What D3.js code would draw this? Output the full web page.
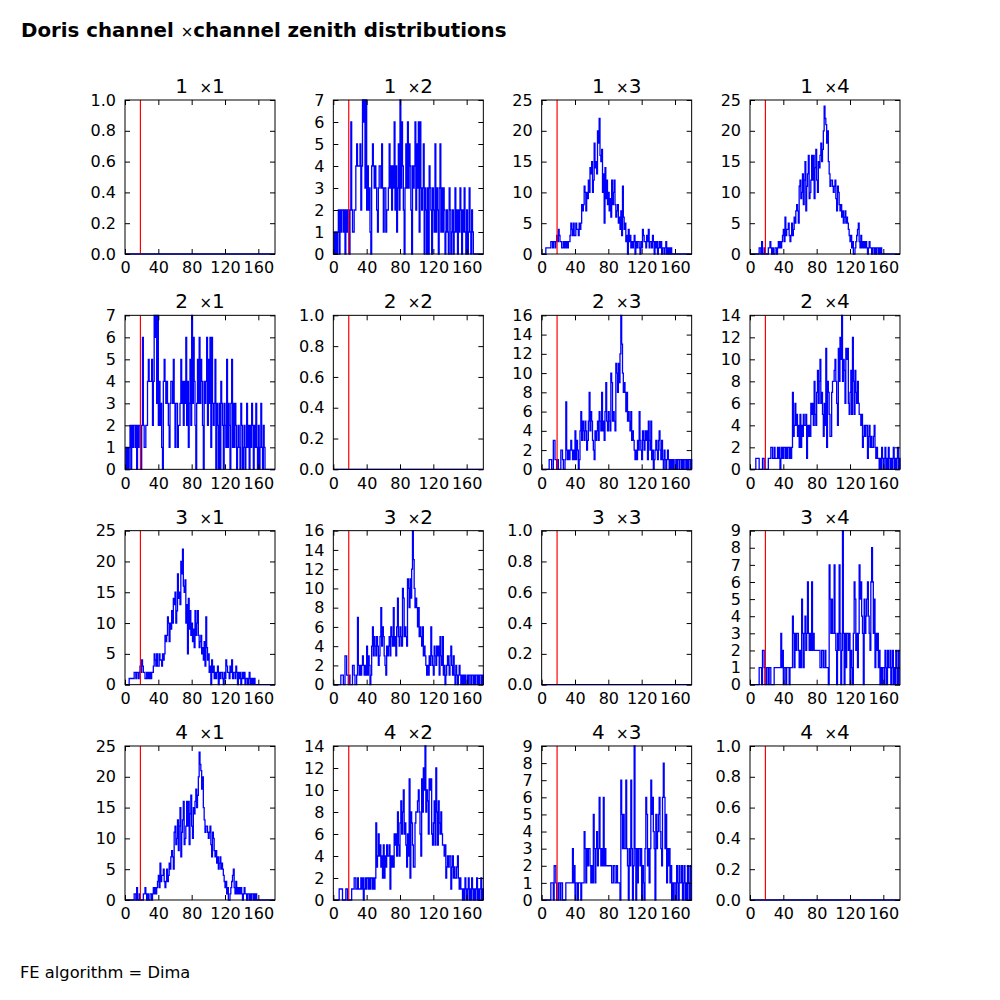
<!DOCTYPE html>
<html>
<head>
<meta charset="utf-8">
<script src="https://cdn.jsdelivr.net/npm/d3@7"></script>
<style>
body { margin: 0; background: #fff; }
text { font-family: "DejaVu Sans", sans-serif; }
</style>
</head>
<body>
<svg id="chart" width="1000" height="1000"></svg>
<script>
// channels and binning (1 degree bins, 0..180)
var channels = [1, 2, 3, 4];
var binEdges = d3.range(0, 181, 1);
var zenithCut = 18.5;
var xTicks = [0, 40, 80, 120, 160];

// counts per zenith bin (pair i x j and j x i look the same)
var counts12 = [
  0,1,0,1,0,1,2,0,2,1, 2,2,1,2,0,2,1,2,2,0, 2,6,2,1,1,2,2,4,5,4,
  4,4,5,2,4,7,6,7,3,7, 2,4,2,3,1,0,4,5,4,3, 4,3,2,1,3,4,4,3,5,3,
  1,3,3,1,2,2,3,5,3,4, 2,4,3,6,2,4,1,3,5,2, 7,3,6,4,2,0,3,5,3,6,
  3,5,4,2,0,4,3,4,6,2, 5,3,6,1,6,3,2,3,5,0, 3,2,0,3,0,4,3,2,0,3,
  2,1,5,1,3,2,0,3,5,1, 3,1,3,2,0,1,2,1,0,3, 2,0,1,2,0,1,3,1,2,0,
  2,1,3,2,0,2,1,3,1,0, 2,0,1,3,1,0,2,1,0,0, 0,0,0,0,0,0,0,0,0,0
];
var counts13 = [
  0,0,0,0,0,1,1,1,1,1, 1,2,2,1,2,2,1,2,3,2, 4,3,2,2,1,1,2,1,2,1,
  2,1,2,2,3,5,4,3,5,3, 3,5,4,4,3,5,4,5,8,7, 8,11,10,7,10,9,12,10,14,13,
  15,10,12,18,14,15,13,20,18,22, 16,15,17,10,13,5,14,9,12,8, 10,7,9,6,12,8,10,12,8,6,
  7,8,5,6,4,7,3,11,6,4, 5,2,3,0,4,2,3,1,2,1, 2,3,0,2,1,2,2,1,0,2,
  1,4,3,2,2,1,3,2,4,1, 2,2,1,3,2,0,2,1,2,0, 1,2,1,2,0,1,1,0,1,2,
  0,1,0,1,0,1,0,0,0,0, 0,0,0,0,0,0,0,0,0,0, 0,0,0,0,0,0,0,0,0,0
];
var counts14 = [
  0,0,0,0,0,0,0,0,0,0, 0,1,1,0,2,0,0,1,0,0, 0,0,1,1,2,1,0,1,0,0,
  1,1,0,1,2,1,2,1,2,3, 4,2,6,3,4,4,5,3,2,3, 5,3,4,6,5,7,8,7,5,11,
  12,9,10,13,8,12,15,7,11,13, 16,9,10,12,16,12,16,9,14,17, 12,10,15,14,16,18,15,17,20,24,
  22,21,18,20,15,13,11,12,12,11, 10,11,12,9,7,11,10,8,7,8, 6,7,5,6,7,5,6,5,4,3,
  2,3,1,2,0,0,1,2,3,4, 5,2,1,3,1,2,1,2,1,2, 1,0,1,2,1,1,0,1,1,0,
  1,0,1,1,0,1,0,1,0,0, 0,0,0,0,0,0,0,0,0,0, 0,0,0,0,0,0,0,0,0,0
];
var counts23 = [
  0,0,0,0,0,0,0,0,0,1, 1,1,0,0,3,3,1,1,0,1, 0,0,0,2,2,1,0,0,1,7,
  2,1,2,1,2,3,2,1,2,1, 4,1,3,2,0,1,4,6,3,5, 4,3,5,4,2,3,5,8,4,6,
  5,3,2,1,4,3,4,5,3,6, 5,4,8,4,5,3,6,9,5,4, 6,5,4,10,9,5,6,5,4,11,
  10,8,11,9,12,16,13,10,8,9, 8,6,8,5,6,5,4,6,3,4, 3,2,1,2,1,3,2,6,3,2,
  1,4,3,2,4,3,4,1,5,3, 2,5,1,2,0,1,2,3,2,1, 3,4,2,1,3,1,0,2,1,0,
  1,2,1,0,1,0,1,0,1,0, 0,1,0,1,1,0,1,1,0,1, 0,1,1,0,1,0,1,1,0,1
];
var counts24 = [
  0,0,0,0,0,0,0,1,1,1, 1,0,0,0,0,1,1,0,0,0, 0,0,1,1,1,2,2,1,1,2,
  1,1,1,2,1,2,0,1,2,1, 2,2,1,2,1,2,2,1,2,1, 2,7,3,4,6,4,5,3,4,2,
  5,2,4,3,5,4,4,5,1,4, 3,4,3,6,5,6,4,8,5,4, 7,9,6,8,10,6,7,5,3,6,
  4,11,2,8,7,5,3,3,7,8, 8,9,10,8,6,4,11,8,12,10, 14,8,10,9,6,11,10,11,6,5,
  7,9,5,12,8,5,9,7,6,8, 6,5,5,4,5,2,3,4,3,4, 4,1,3,4,2,3,2,2,3,4,
  2,1,2,1,1,0,1,0,2,1, 0,1,2,0,1,0,2,1,0,1, 0,1,2,0,1,0,1,2,0,1
];
var counts34 = [
  0,0,0,0,0,0,0,0,0,0, 0,1,1,1,0,2,2,1,0,0, 1,1,0,1,1,0,0,0,0,1,
  1,1,1,1,1,1,1,3,1,2, 0,1,1,0,1,1,1,0,1,1, 1,4,3,1,3,2,3,3,2,1,
  2,1,5,3,1,3,4,2,3,6, 3,2,3,2,6,2,3,2,2,2, 2,2,2,2,1,1,2,2,1,1,
  2,1,1,1,0,7,5,3,5,3, 3,7,3,2,0,3,2,7,3,0, 2,9,3,0,3,1,3,3,2,3,
  0,2,1,0,3,6,5,2,3,1, 3,7,5,6,4,3,0,5,3,4, 5,6,4,3,2,6,8,6,3,5,
  1,3,2,3,1,2,0,1,0,1, 1,0,2,1,0,2,1,1,2,0, 1,2,0,1,0,2,1,0,2,0
];
var emptyCounts = binEdges.slice(1).map(function () { return 0; });

var pairs = [[1, 2], [1, 3], [1, 4], [2, 3], [2, 4], [3, 4]];
var pairCounts = [counts12, counts13, counts14, counts23, counts24, counts34];
var pairYMax = [7, 25, 25, 16, 14, 9];
var pairYStep = [1, 5, 5, 2, 2, 1];
var emptyYMax = 1;
var emptyYStep = 0.2;

var svg = d3.select("#chart");
var panelW = 150, panelH = 154;
var left0 = 125, top0 = 100, pitchX = 208.33, pitchY = 215.33;

function findPair(a, b) {
    for (var k = 0; k < pairs.length; k++) {
        if ((pairs[k][0] == a && pairs[k][1] == b) || (pairs[k][0] == b && pairs[k][1] == a)) return k;
    }
    return -1;
}

function drawPanel(a, b) {
    var k = findPair(a, b);
    var counts = k < 0 ? emptyCounts : pairCounts[k];
    var yMax = k < 0 ? emptyYMax : pairYMax[k];
    var yStep = k < 0 ? emptyYStep : pairYStep[k];

    var px = left0 + (b - 1) * pitchX;
    var py = top0 + (a - 1) * pitchY;
    var g = svg.append("g").attr("transform", `translate(${px},${py})`);

    var x = d3.scaleLinear().domain([0, 180]).range([0, panelW]);
    var y = d3.scaleLinear().domain([0, yMax]).range([panelH, 0]);
    var yTicks = d3.range(0, yMax + yStep / 2, yStep);
    var fmt = k < 0 ? d3.format(".1f") : d3.format("d");

    // step outline like hist(histtype='step')
    var pts = [[binEdges[0], 0]];
    counts.forEach(function (c, i) {
        pts.push([binEdges[i], c]);
        pts.push([binEdges[i + 1], c]);
    });
    pts.push([binEdges[binEdges.length - 1], 0]);
    var line = d3.line().x(function (d) { return x(d[0]); }).y(function (d) { return y(d[1]); });

    g.append("path").attr("d", line(pts))
        .attr("fill", "none").attr("stroke", "#0000ff").attr("stroke-width", 1.3);

    g.append("line")
        .attr("x1", x(zenithCut)).attr("x2", x(zenithCut))
        .attr("y1", 0).attr("y2", panelH)
        .attr("stroke", "#ff0000").attr("stroke-width", 1.2);

    // inward ticks on all four sides
    var tl = 5;
    g.append("g").attr("transform", `translate(0,${panelH})`)
        .call(d3.axisBottom(x).tickValues(xTicks).tickSizeInner(-tl).tickSizeOuter(0).tickPadding(8));
    g.append("g")
        .call(d3.axisTop(x).tickValues(xTicks).tickSizeInner(-tl).tickSizeOuter(0).tickFormat(""));
    g.append("g")
        .call(d3.axisLeft(y).tickValues(yTicks).tickSizeInner(-tl).tickSizeOuter(0).tickPadding(9).tickFormat(fmt));
    g.append("g").attr("transform", `translate(${panelW},0)`)
        .call(d3.axisRight(y).tickValues(yTicks).tickSizeInner(-tl).tickSizeOuter(0).tickFormat(""));
    g.selectAll(".domain").remove();
    g.selectAll(".tick line").attr("stroke", "#000");
    g.selectAll(".tick text").attr("font-size", 16).attr("fill", "#000")
        .attr("font-family", "DejaVu Sans");

    g.append("rect").attr("width", panelW).attr("height", panelH)
        .attr("fill", "none").attr("stroke", "#000").attr("stroke-width", 1);

    var t = g.append("text").attr("x", panelW / 2).attr("y", -7)
        .attr("text-anchor", "middle").attr("font-size", 20);
    t.append("tspan").text(a + " ");
    t.append("tspan").attr("font-size", 15).attr("dx", 5).text("\u00d7");
    t.append("tspan").text(b);
}

channels.forEach(function (a) {
    channels.forEach(function (b) { drawPanel(a, b); });
});

var title = svg.append("text").attr("x", 21).attr("y", 37).attr("font-size", 19.8).attr("font-weight", "bold");
title.append("tspan").text("Doris channel ");
title.append("tspan").attr("font-weight", "normal").attr("font-size", 15).text("\u00d7");
title.append("tspan").text("channel zenith distributions");

svg.append("text").attr("x", 20).attr("y", 978).attr("font-size", 16.3).text("FE algorithm = Dima");
</script>
</body>
</html>
